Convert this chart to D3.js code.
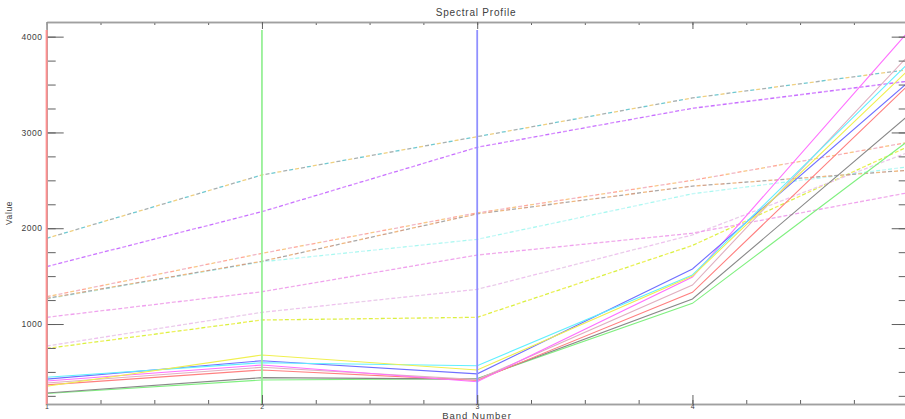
<!DOCTYPE html>
<html>
<head>
<meta charset="utf-8">
<script src="https://cdn.jsdelivr.net/npm/d3@7"></script>
<style>
  html, body { margin: 0; padding: 0; background: #fff; overflow: hidden; }
  svg { display: block; font-family: "Liberation Sans", "DejaVu Sans", sans-serif; }
</style>
</head>
<body>
<svg id="chart" width="905" height="419"></svg>
<script>
// ---- data ----
const bands = [1, 2, 3, 4, 5];
const xTickLabels = [1, 2, 3, 4];
const yTickLabels = [1000, 2000, 3000, 4000];

// solid series
const solidYellow  = [350, 677, 520, 1500, 3644];
const solidBlue    = [425, 617, 480, 1575, 3520];
const solidCyan    = [445, 596, 565, 1512, 3715];
const solidMagenta = [405, 572, 398, 1490, 4046];
const solidRosy    = [385, 548, 420, 1407, 3794];
const solidRed     = [365, 520, 412, 1331, 3488];
const solidGray    = [280, 440, 425, 1261, 3172];
const solidGreen   = [275, 415, 430, 1216, 2908];

// dashed series
const dashTeal     = [1895, 2556, 2956, 3360, 3655];
const dashPurple   = [1600, 2173, 2845, 3252, 3535];
const dashSalmon   = [1285, 1738, 2160, 2500, 2895];
const dashBrown    = [1268, 1655, 2150, 2440, 2605];
const dashCyan     = [1262, 1650, 1884, 2360, 2640];
const dashPink     = [1070, 1337, 1720, 1948, 2370];
const dashLavender = [770, 1122, 1362, 1930, 2790];
const dashYelGreen = [745, 1042, 1070, 1820, 2850];

// ---- chart ----
const svg = d3.select("#chart");
const pLeft = 46.7, pRight = 907.7, pTop = 22, pBottom = 404;
const x = d3.scaleLinear().domain([1, 5]).range([pLeft, pRight]);
const y = d3.scaleLinear().domain([165, 4153]).range([pBottom, pTop]);

const line = d3.line().x((d, i) => x(bands[i])).y(d => y(d));

const solids = [
  [solidGreen, "#80f080"], [solidGray, "#888888"], [solidRed, "#ff8080"],
  [solidRosy, "#e0b0c0"], [solidMagenta, "#ff70ff"], [solidBlue, "#7070ff"],
  [solidCyan, "#60f0ff"], [solidYellow, "#f0f050"]
];
const dashed = [
  [dashYelGreen, ["#d8f040", "#f0f060"]],
  [dashLavender, ["#f0c0f0", "#e8d0e8"]],
  [dashPink, ["#f0a0f0", "#f0b0e8"]],
  [dashCyan, ["#a8f8f0", "#c8f8f8"]],
  [dashBrown, ["#d0a088", "#a8a8a8", "#f0b880"]],
  [dashSalmon, ["#ffa898", "#f8c888", "#f0b8c8"]],
  [dashPurple, ["#c870ff", "#d890ff"]],
  [dashTeal, ["#70c8d0", "#f0d080", "#a8b0b0"]]
];

const g = svg.append("g");

dashed.forEach(([vals, cols]) => {
  const n = cols.length;
  const seg = 4, period = seg * n + 2 * n;
  cols.forEach((c, k) => {
    g.append("path")
      .datum(vals)
      .attr("d", line)
      .attr("fill", "none")
      .attr("stroke", c)
      .attr("stroke-width", 1.3)
      .attr("stroke-dasharray", `${seg},${period - seg}`)
      .attr("stroke-dashoffset", -k * (seg + 2));
  });
});

solids.forEach(([vals, c]) => {
  g.append("path")
    .datum(vals)
    .attr("d", line)
    .attr("fill", "none")
    .attr("stroke", c)
    .attr("stroke-width", 1.1);
});

// RGB band markers
const markers = [[1, "#ff9090"], [2, "#98f098"], [3, "#9090ff"]];
markers.forEach(([b, c]) => {
  g.append("line")
    .attr("x1", x(b)).attr("x2", x(b))
    .attr("y1", 30).attr("y2", pBottom)
    .attr("stroke", c).attr("stroke-width", 1.8);
});

// ---- axes ----
const axisColor = "#a0a0a0", tickColor = "#606060", textColor = "#404040";
const minorX = d3.range(1, 5.001, 0.25);
const minorY = d3.range(250, 4153, 250);

function styleAxis(sel, fs) {
  sel.select(".domain").attr("stroke", axisColor).attr("stroke-width", 1.5);
  sel.selectAll(".tick line").attr("stroke", tickColor);
  sel.selectAll("text").attr("fill", textColor).attr("font-size", fs || 8.5)
    .attr("font-family", "Liberation Sans, sans-serif").attr("letter-spacing", 0.6);
}

svg.append("g").attr("transform", `translate(0,${pBottom})`)
  .call(d3.axisBottom(x).tickValues(minorX).tickSizeInner(-4).tickSizeOuter(0).tickFormat(""))
  .call(styleAxis);
svg.append("g").attr("transform", `translate(0,${pBottom})`)
  .call(d3.axisBottom(x).tickValues(xTickLabels).tickSizeInner(-9).tickSizeOuter(0).tickPadding(0).tickFormat(d3.format("d")))
  .call(s => styleAxis(s, 7));
svg.append("g").attr("transform", `translate(0,${pTop})`)
  .call(d3.axisTop(x).tickValues(minorX).tickSizeInner(-3).tickSizeOuter(0).tickFormat(""))
  .call(styleAxis);
svg.append("g").attr("transform", `translate(0,${pTop})`)
  .call(d3.axisTop(x).tickValues(xTickLabels).tickSizeInner(-7).tickSizeOuter(0).tickFormat(""))
  .call(styleAxis);
svg.append("g").attr("transform", `translate(${pLeft},0)`)
  .call(d3.axisLeft(y).tickValues(minorY).tickSizeInner(-9).tickSizeOuter(0).tickFormat(""))
  .call(styleAxis);
svg.append("g").attr("transform", `translate(${pLeft},0)`)
  .call(d3.axisLeft(y).tickValues(yTickLabels).tickSizeInner(-17).tickSizeOuter(0).tickPadding(4).tickFormat(d3.format("d")))
  .call(styleAxis);
svg.append("g").attr("transform", `translate(${pRight},0)`)
  .call(d3.axisRight(y).tickValues(minorY).tickSizeInner(-9).tickSizeOuter(0).tickFormat(""))
  .call(styleAxis);
svg.append("g").attr("transform", `translate(${pRight},0)`)
  .call(d3.axisRight(y).tickValues(yTickLabels).tickSizeInner(-16).tickSizeOuter(0).tickFormat(""))
  .call(styleAxis);

svg.append("line").attr("x1", x(1)).attr("x2", x(1)).attr("y1", 30).attr("y2", pBottom)
  .attr("stroke", "#ff9090").attr("stroke-width", 1.8);

// ---- titles ----
svg.append("text").attr("x", 476).attr("y", 16).attr("text-anchor", "middle")
  .attr("font-size", 10).attr("letter-spacing", 0.8).attr("fill", textColor)
  .text("Spectral Profile");
svg.append("text").attr("x", 477).attr("y", 418.5).attr("text-anchor", "middle")
  .attr("font-size", 9.5).attr("letter-spacing", 1).attr("fill", textColor)
  .text("Band Number");
svg.append("text").attr("transform", "translate(12,213) rotate(-90)").attr("text-anchor", "middle")
  .attr("font-size", 8.5).attr("letter-spacing", 0.6).attr("fill", textColor)
  .text("Value");
</script>
</body>
</html>
